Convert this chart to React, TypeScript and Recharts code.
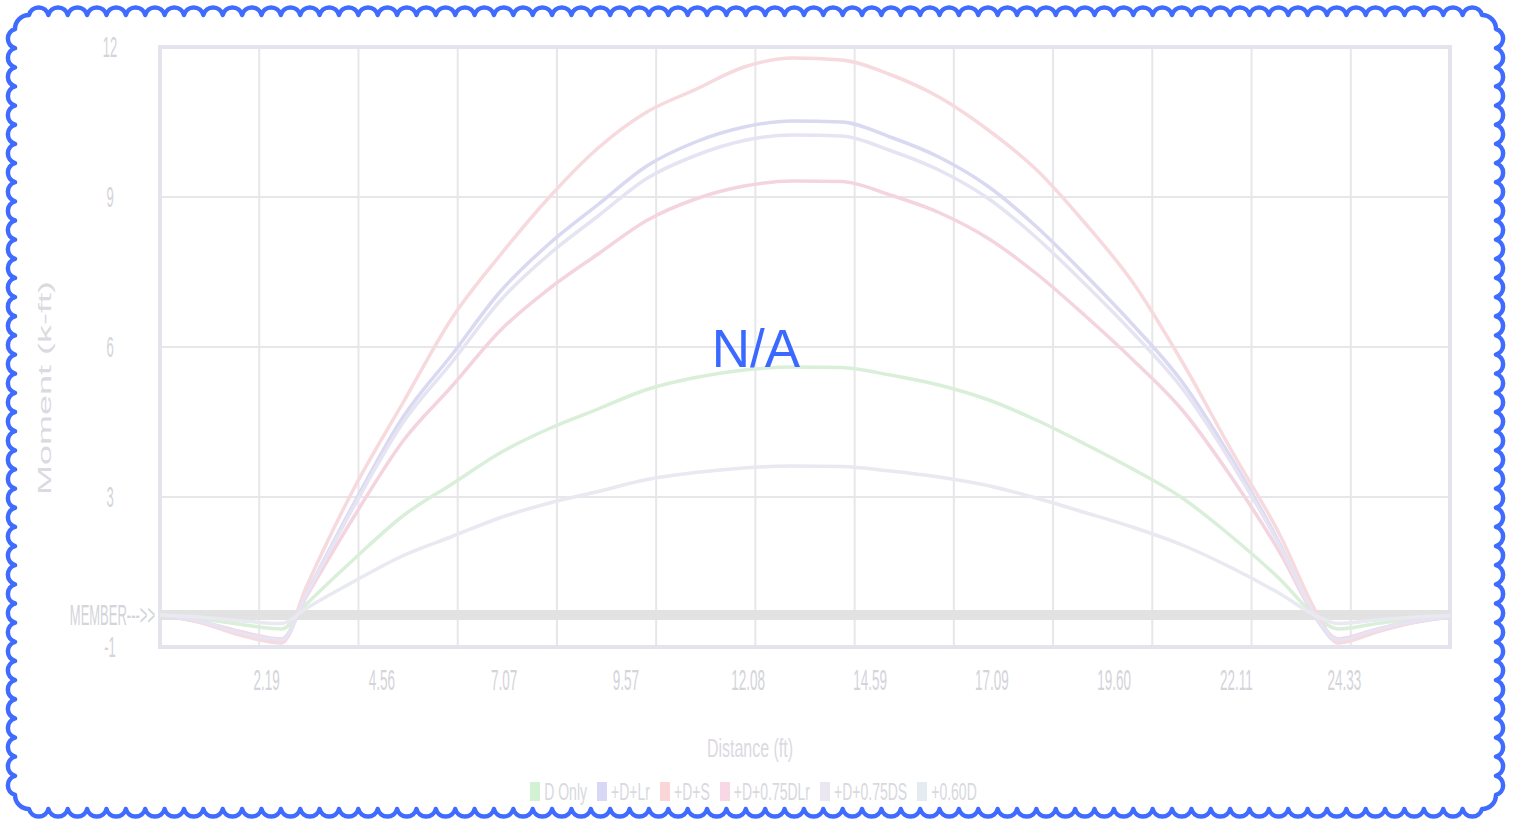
import React from 'react';
import {
  LineChart,
  Line,
  XAxis,
  YAxis,
  CartesianGrid,
  ReferenceLine,
  ReferenceArea,
  Legend,
  Label,
} from 'recharts';

const W = 1517;
const H = 820;
const X_MAX = 26.5;
const MEMBER = 0.64;

// distance along member (ft)
const distance = [0, 0.8, 1.6, 2.5, 3, 4, 5, 6, 7, 8, 9, 10, 11, 12, 13, 14, 15, 16, 17, 18, 19, 20, 21, 22, 23, 23.8, 24.2, 25, 25.8, 26.5];

// moment values
const dOnly = [0.64, 0.57, 0.46, 0.36, 0.85, 1.77, 2.63, 3.26, 3.89, 4.37, 4.76, 5.15, 5.39, 5.54, 5.6, 5.59, 5.44, 5.24, 4.95, 4.54, 4.06, 3.55, 2.98, 2.22, 1.36, 0.57, 0.36, 0.47, 0.57, 0.62];
const dLr = [0.64, 0.5, 0.27, 0.1, 1.05, 2.9, 4.61, 5.85, 7.12, 8.07, 8.85, 9.62, 10.1, 10.4, 10.52, 10.5, 10.2, 9.8, 9.22, 8.41, 7.45, 6.43, 5.3, 3.79, 2.07, 0.5, 0.1, 0.32, 0.5, 0.6];
const dS = [0.64, 0.5, 0.25, 0.08, 1.19, 3.2, 4.9, 6.58, 7.85, 9.0, 9.98, 10.7, 11.15, 11.6, 11.78, 11.74, 11.45, 11.0, 10.35, 9.55, 8.48, 7.27, 5.7, 3.95, 2.25, 0.62, 0.08, 0.3, 0.5, 0.6];
const d75Lr = [0.64, 0.52, 0.32, 0.16, 1.0, 2.63, 4.13, 5.22, 6.34, 7.17, 7.86, 8.53, 8.96, 9.22, 9.32, 9.31, 9.04, 8.69, 8.18, 7.47, 6.63, 5.73, 4.74, 3.41, 1.9, 0.52, 0.16, 0.36, 0.53, 0.61];
const d75S = [0.64, 0.52, 0.3, 0.14, 1.04, 2.84, 4.5, 5.7, 6.94, 7.86, 8.62, 9.37, 9.83, 10.13, 10.24, 10.22, 9.93, 9.54, 8.98, 8.19, 7.26, 6.27, 5.17, 3.7, 2.03, 0.52, 0.14, 0.35, 0.52, 0.61];
const d60 = [0.64, 0.6, 0.53, 0.47, 0.77, 1.32, 1.83, 2.21, 2.59, 2.88, 3.11, 3.35, 3.49, 3.58, 3.62, 3.61, 3.52, 3.4, 3.23, 2.98, 2.69, 2.39, 2.04, 1.59, 1.07, 0.6, 0.47, 0.54, 0.6, 0.63];

const xTicks = [2.19, 4.56, 7.07, 9.57, 12.08, 14.59, 17.09, 19.6, 22.11, 24.33];
const yTicks = [0, MEMBER, 3, 6, 9, 12];
// vertical grid: 13 equal divisions of the span
const gridX = Array.from({ length: 12 }, (_, i) => ((i + 1) * X_MAX) / 13);

const SERIES = [
  { key: 'dOnly', name: 'D Only', stroke: '#d9efd9', swatch: '#d3f1d3' },
  { key: 'dLr', name: '+D+Lr', stroke: '#d9d9f1', swatch: '#d8d8f6' },
  { key: 'dS', name: '+D+S', stroke: '#f6dade', swatch: '#fbd6d6' },
  { key: 'd75Lr', name: '+D+0.75DLr', stroke: '#f4d4df', swatch: '#f9d8e6' },
  { key: 'd75S', name: '+D+0.75DS', stroke: '#e6e4f3', swatch: '#ebe7f1' },
  { key: 'd60', name: '+0.60D', stroke: '#e8e9f1', swatch: '#e5ecf1' },
];

const data = distance.map((x, i) => ({
  x,
  dOnly: dOnly[i],
  dLr: dLr[i],
  dS: dS[i],
  d75Lr: d75Lr[i],
  d75S: d75S[i],
  d60: d60[i],
}));

const FONT = '"Liberation Sans", Arial, sans-serif';
const TICK = '#d4d4da';
const TITLE = '#dadadf';

const yLabel = (v: number) => (v === 0 ? '-1' : v === MEMBER ? 'MEMBER--->>' : String(v));

const XTick = ({ x, y, payload }: any) => (
  <g transform={`translate(${x},${y}) scale(1,2.2)`}>
    <text x={0} y={19.5} textAnchor="middle" fontSize={13.5} fill={TICK} fontFamily={FONT}>
      {Number(payload.value).toFixed(2)}
    </text>
  </g>
);

const YTick = ({ x, y, payload }: any) => {
  const member = payload.value === MEMBER;
  return (
    <g transform={`translate(${member ? x - 5 : x - 50},${y}) scale(1,2.2)`}>
      <text x={0} y={0} dy="0.36em" textAnchor={member ? 'end' : 'middle'} fontSize={13} fill={TICK} fontFamily={FONT}>
        {yLabel(payload.value)}
      </text>
    </g>
  );
};

const LegendBox = () => (
  <div
    style={{
      display: 'flex',
      justifyContent: 'center',
      alignItems: 'center',
      height: 26,
      fontFamily: FONT,
      fontSize: 14,
      color: '#d8d8de',
    }}
  >
    {SERIES.map((s) => (
      <div key={s.key} style={{ display: 'flex', alignItems: 'center', marginRight: 10 }}>
        <span style={{ display: 'inline-block', width: 10, height: 19, background: s.swatch, marginRight: 4 }} />
        <span style={{ display: 'inline-block', transform: 'scaleY(1.7)' }}>{s.name}</span>
      </div>
    ))}
  </div>
);

function scallopPath(x0: number, y0: number, x1: number, y1: number, R: number, p: number, r: number) {
  let d = `M ${x0 + R} ${y0}`;
  const run = (len: number, dx: number, dy: number) => {
    const n = Math.max(1, Math.round(len / p));
    const s = len / n;
    for (let i = 0; i < n; i++) d += ` a ${r} ${r} 0 0 1 ${dx * s} ${dy * s}`;
  };
  run(x1 - x0 - 2 * R, 1, 0);
  d += ` A ${R} ${R} 0 0 1 ${x1} ${y0 + R}`;
  run(y1 - y0 - 2 * R, 0, 1);
  d += ` A ${R} ${R} 0 0 1 ${x1 - R} ${y1}`;
  run(x1 - x0 - 2 * R, -1, 0);
  d += ` A ${R} ${R} 0 0 1 ${x0} ${y1 - R}`;
  run(y1 - y0 - 2 * R, 0, -1);
  d += ` A ${R} ${R} 0 0 1 ${x0 + R} ${y0} Z`;
  return d;
}

export default function App() {
  return (
    <div style={{ position: 'absolute', left: 0, top: 0, width: W, height: H, background: '#fff' }}>
      <div style={{ position: 'absolute', left: 0, top: 0 }}>
        <LineChart width={W} height={H} data={data} margin={{ top: 47, right: 67, bottom: 20, left: 20 }}>
          <CartesianGrid stroke="#e7e7ea" strokeWidth={2} verticalValues={gridX} />
          <XAxis
            dataKey="x"
            type="number"
            domain={[0, X_MAX]}
            ticks={xTicks}
            interval={0}
            height={127}
            axisLine={false}
            tickLine={false}
            tickSize={0}
            tickMargin={0}
            tick={<XTick />}
          >
            <Label
              content={() => (
                <g transform="translate(750,757) scale(1,1.6)">
                  <text textAnchor="middle" fontSize={16} fill={TITLE} fontFamily={FONT}>
                    Distance (ft)
                  </text>
                </g>
              )}
            />
          </XAxis>
          <YAxis
            type="number"
            domain={[0, 12]}
            ticks={yTicks}
            interval={0}
            width={140}
            axisLine={false}
            tickLine={false}
            tickSize={0}
            tickMargin={0}
            tick={<YTick />}
          >
            <Label
              content={() => (
                <g transform="translate(45,388) rotate(-90) scale(2,1)">
                  <text textAnchor="middle" dy="0.35em" fontSize={18} fill={TITLE} fontFamily={FONT}>
                    Moment (k-ft)
                  </text>
                </g>
              )}
            />
          </YAxis>
          <ReferenceLine y={MEMBER} stroke="#e2e2e2" strokeWidth={10} />
          <ReferenceArea x1={0} x2={X_MAX} y1={0} y2={12} fill="none" stroke="#e4e4ee" strokeWidth={4} />
          {SERIES.map((s) => (
            <Line
              key={s.key}
              dataKey={s.key}
              name={s.name}
              type="monotone"
              stroke={s.stroke}
              strokeWidth={3.5}
              dot={false}
              activeDot={false}
              isAnimationActive={false}
            />
          ))}
          <Legend verticalAlign="bottom" wrapperStyle={{ left: 0, width: W, bottom: 16 }} content={() => <LegendBox />} />
        </LineChart>
      </div>
      <svg width={W} height={H} style={{ position: 'absolute', left: 0, top: 0, pointerEvents: 'none' }}>
        <path
          d={scallopPath(15, 15, 1496, 809, 14, 19.3, 10)}
          fill="none"
          stroke="#3f6bff"
          strokeWidth={4.5}
          strokeLinejoin="round"
        />
        <text x={756} y={367} textAnchor="middle" fontSize={53} fill="#3b69ff" fontFamily={FONT}>
          N/A
        </text>
      </svg>
    </div>
  );
}
